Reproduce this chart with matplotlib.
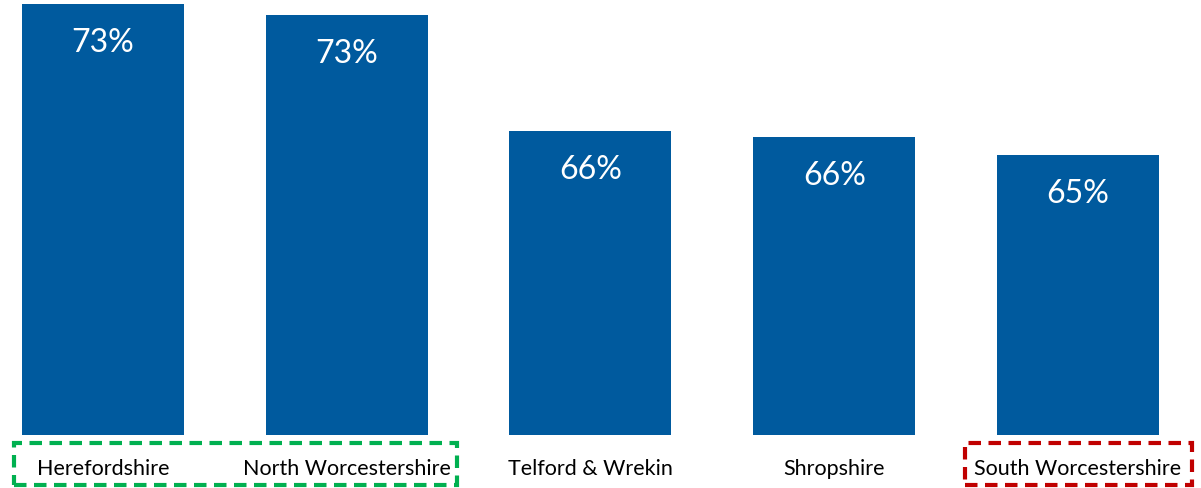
import matplotlib
matplotlib.use('Agg')
import matplotlib.pyplot as plt
from matplotlib.patches import Rectangle
import matplotlib.transforms as mtransforms

# --- DATA ---
areas  = ['Herefordshire', 'North Worcestershire', 'Telford & Wrekin',
          'Shropshire', 'South Worcestershire']
values = [73.4, 72.8, 66.5, 66.2, 65.2]

C = dict(bar='#005A9E', text='#000000', good='#00B050', bad='#C00000')

plt.rcParams['font.family'] = ['Lato', 'DejaVu Sans']

fig = plt.figure(figsize=(12.01, 4.88), dpi=100)
ax = fig.add_axes([0, 53 / 488, 1, 435 / 488])

x = range(len(areas))
bars = ax.bar(x, values, width=0.665, color=C['bar'], zorder=3)
ax.set_xlim(-0.4226, 4.505)
ax.set_ylim(50, 73.64)

for bar, val in zip(bars, values):
    ax.annotate(f'{val:.0f}%', (bar.get_x() + bar.get_width() / 2, bar.get_height()),
                xytext=(0, -39), textcoords='offset pixels', annotation_clip=False,
                ha='center', va='center', color='white', fontsize=23, zorder=5)

ax.set_xticks(list(x))
ax.set_xticklabels(areas, fontsize=15.5, color=C['text'])
ax.tick_params(axis='x', length=0, pad=17)
ax.set_yticks([])
for s in ax.spines.values():
    s.set_visible(False)

# dashed highlight boxes round the best and worst areas
trans = mtransforms.blended_transform_factory(ax.transData, fig.transFigure)
for x0, x1, col in [(-0.365, 1.453, C['good']), (3.537, 4.469, C['bad'])]:
    rect = Rectangle((x0, 0.006), x1 - x0, 0.086, transform=trans, fill=False,
                     edgecolor=col, lw=3, ls=(0, (3, 1.8)), clip_on=False)
    fig.add_artist(rect)

plt.savefig('out.png', dpi=100)
